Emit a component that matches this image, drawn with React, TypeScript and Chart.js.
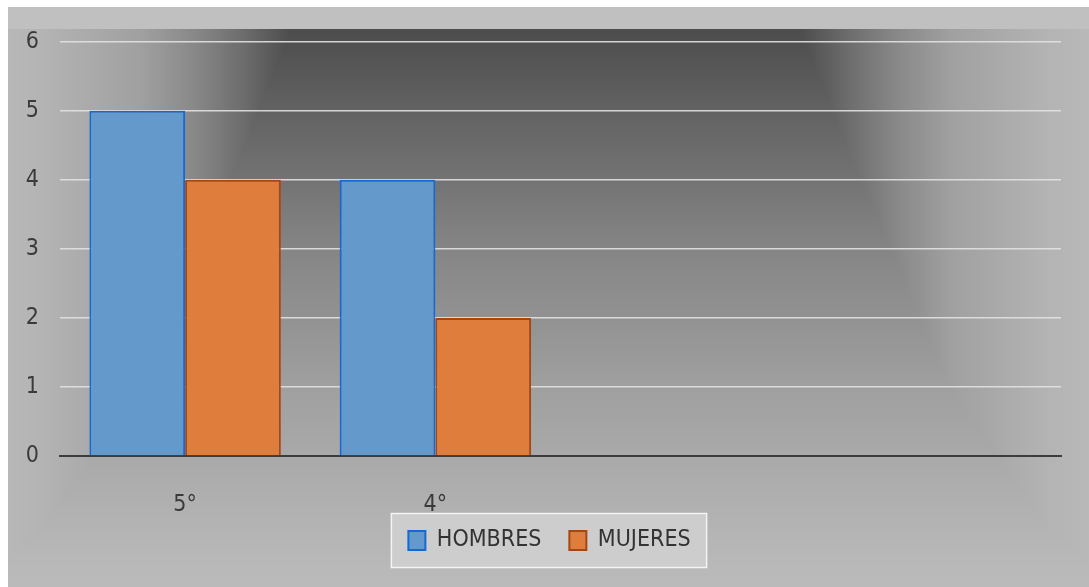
import React, { useEffect, useRef } from "react";
import { Chart, registerables } from "chart.js";

Chart.register(...registerables);

const categories = ["5°", "4°", "", ""];
const hombres: (number | null)[] = [5, 4, null, null];
const mujeres: (number | null)[] = [4, 2, null, null];
const seriesNames = ["HOMBRES", "MUJERES"];
const yMin = 0;
const yMax = 6;
const yStep = 1;

const FONT = "'Liberation Sans Narrow', 'Arial Narrow', 'DejaVu Sans Condensed', sans-serif";

const CANVAS_LEFT = 8;
const CANVAS_TOP = 7;
const CANVAS_W = 1081;
const CANVAS_H = 580;

// background shading tables (distance -> gray level)
const VT: [number, number][] = [[0, 77], [67, 95], [147, 115], [217, 133], [287, 146], [357, 160], [417, 168], [527, 184], [600, 190]];
const HT: [number, number][] = [[0, 77], [50, 110], [100, 138], [150, 160], [200, 170], [250, 180], [300, 186], [400, 190]];

function interp(t: [number, number][], v: number) {
  if (v <= t[0][0]) return t[0][1];
  for (let i = 1; i < t.length; i++) {
    if (v <= t[i][0]) {
      const [x0, y0] = t[i - 1];
      const [x1, y1] = t[i];
      return y0 + ((v - x0) / (x1 - x0)) * (y1 - y0);
    }
  }
  return t[t.length - 1][1];
}

function makeBg(w: number, h: number) {
  const c = document.createElement("canvas");
  c.width = w;
  c.height = h;
  const ctx = c.getContext("2d")!;
  const img = ctx.createImageData(w, h);
  const d = img.data;
  for (let y = 0; y < h; y++) {
    const py = y + CANVAS_TOP;
    for (let x = 0; x < w; x++) {
      const px = x + CANVAS_LEFT;
      let v: number;
      if (py < 29) v = 192;
      else {
        const dy = Math.max(0, py - 31);
        const dx = Math.max(0, Math.abs(px - 545) - 255);
        v = Math.max(interp(VT, dy), interp(HT, dx));
      }
      const i = (y * w + x) * 4;
      d[i] = v;
      d[i + 1] = v;
      d[i + 2] = v;
      d[i + 3] = 255;
    }
  }
  ctx.putImageData(img, 0, 0);
  return c;
}

const LEGEND_SHIFT_Y = 21;
const LEGEND_SHIFT_X = 7;

export default function App() {
  const ref = useRef<HTMLCanvasElement>(null);
  useEffect(() => {
    if (!ref.current) return;
    const bg = makeBg(CANVAS_W, CANVAS_H);
    const bgPlugin = {
      id: "bgPlugin",
      afterLayout(chart: any) {
        const lg = chart.legend;
        if (lg) {
          lg.top -= LEGEND_SHIFT_Y;
          lg.bottom -= LEGEND_SHIFT_Y;
          lg.left += LEGEND_SHIFT_X;
          lg.right += LEGEND_SHIFT_X;
        }
      },
      beforeDraw(chart: any) {
        const ctx = chart.ctx;
        ctx.save();
        ctx.drawImage(bg, 0, 0, chart.width, chart.height);
        const lg = chart.legend;
        const hb = lg?.legendHitBoxes;
        if (hb && hb.length) {
          const left = Math.min(...hb.map((b: any) => b.left)) - 17;
          const right = Math.max(...hb.map((b: any) => b.left + b.width)) + 16;
          const cy = hb[0].top + hb[0].height / 2;
          ctx.fillStyle = "#cdcdcd";
          ctx.fillRect(left, cy - 27, right - left, 54);
          ctx.strokeStyle = "rgba(250,250,250,0.9)";
          ctx.lineWidth = 1.5;
          ctx.strokeRect(left, cy - 27, right - left, 54);
        }
        ctx.restore();
      },
    };
    const chart = new Chart(ref.current, {
      type: "bar",
      data: {
        labels: categories,
        datasets: [
          {
            label: seriesNames[0],
            data: hombres,
            backgroundColor: "#6399cb",
            borderColor: "#1469d8",
            borderWidth: 2,
          },
          {
            label: seriesNames[1],
            data: mujeres,
            backgroundColor: "#df7e3c",
            borderColor: "#a9460f",
            borderWidth: 2,
          },
        ],
      },
      options: {
        animation: false,
        responsive: true,
        maintainAspectRatio: false,
        layout: { padding: { left: 16, right: 28, top: 30, bottom: 4 } },
        datasets: { bar: { categoryPercentage: 0.765, barPercentage: 1 } },
        plugins: {
          tooltip: { enabled: false },
          legend: {
            position: "bottom",
            labels: {
              font: { family: FONT, size: 23 },
              color: "#333333",
              boxWidth: 17,
              boxHeight: 19,
              padding: 28,
            },
          },
        },
        scales: {
          x: {
            grid: { display: false, drawTicks: false },
            border: { display: true, color: "#3c3c3c", width: 2 },
            ticks: { font: { family: FONT, size: 23 }, color: "#3a3a3a", padding: 35 },
            afterFit: (s: any) => {
              s.height = 66;
            },
          },
          y: {
            min: yMin,
            max: yMax,
            grid: { color: "rgba(226,226,226,0.9)", lineWidth: 1.5, drawTicks: false },
            border: { display: false },
            ticks: { stepSize: yStep, font: { family: FONT, size: 23 }, color: "#3a3a3a", padding: 21 },
            afterFit: (s: any) => {
              s.width = 36;
            },
          },
        },
      },
      plugins: [bgPlugin],
    });
    return () => chart.destroy();
  }, []);
  return (
    <div
      style={{
        position: "fixed",
        left: CANVAS_LEFT,
        top: CANVAS_TOP,
        width: CANVAS_W,
        height: CANVAS_H,
      }}
    >
      <canvas ref={ref} />
    </div>
  );
}
